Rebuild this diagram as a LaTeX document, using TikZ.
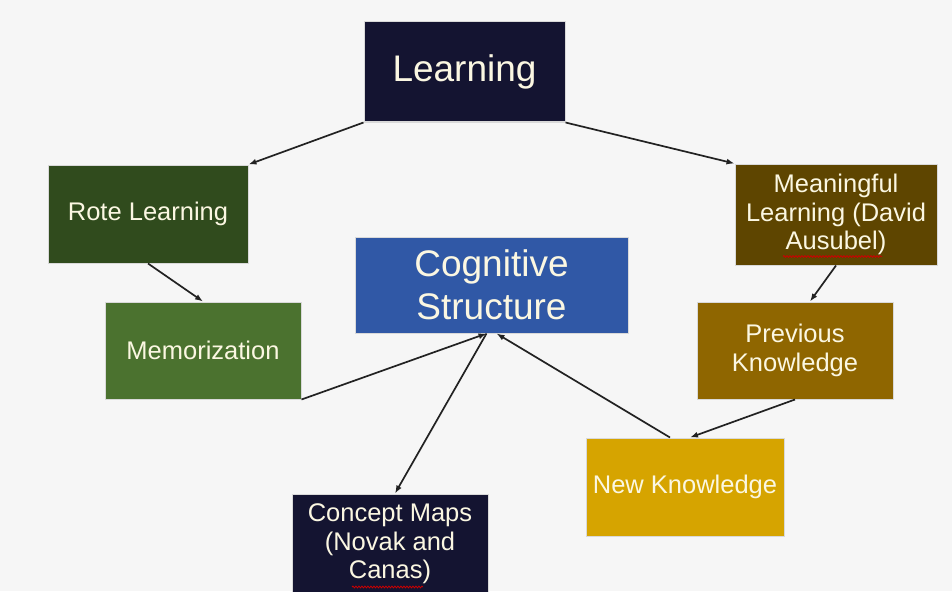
\documentclass[tikz,border=0pt]{standalone}
\usepackage{fontspec}
\setmainfont{Liberation Sans}
\usetikzlibrary{arrows.meta,decorations.pathmorphing}

\definecolor{bgcol}{HTML}{F6F6F6}
\definecolor{navycol}{HTML}{141431}
\definecolor{rotecol}{HTML}{304B1D}
\definecolor{memocol}{HTML}{4B722F}
\definecolor{cogcol}{HTML}{3058A6}
\definecolor{meancol}{HTML}{5E4500}
\definecolor{prevcol}{HTML}{8F6600}
\definecolor{newcol}{HTML}{D6A400}
\definecolor{txtcol}{HTML}{FBF7E2}
\definecolor{linecol}{HTML}{222222}

\begin{document}
\begin{tikzpicture}[x=1pt,y=-1pt,
    box/.style={draw=white!85!black,line width=1pt,text=txtcol,align=center,
      inner sep=0pt,font=\fontsize{25.5}{28.5}\selectfont},
    bigbox/.style={box,font=\fontsize{37}{43}\selectfont},
    link/.style={draw=linecol,line width=1.7pt,-{Latex[length=8pt,width=6pt]}},
    spell/.style={draw=red!80!black,line width=0.8pt,decorate,
      decoration={snake,amplitude=0.9pt,segment length=3pt}}]
% \clip (0,0) rectangle (952,591);
\fill[bgcol] (0,0) rectangle (952,591);%
\useasboundingbox (0,0) rectangle (952,591);%

% Drawing the boxes
\node[bigbox,fill=navycol,minimum width=201pt,minimum height=100pt] (learn) at (464.5,72) {Learning};%
\node[box,fill=rotecol,minimum width=200pt,minimum height=98pt] (rote) at (148,214) {Rote Learning};%
\node[box,fill=memocol,minimum width=196pt,minimum height=97pt] (memo) at (203,350.5) {Memorization};%
\node[bigbox,fill=cogcol,minimum width=273pt,minimum height=96pt] (cog) at (491.5,285) {Cognitive\\Structure};%
\node[box,fill=meancol,minimum width=202pt,minimum height=101pt] (mean) at (836,214.5) {Meaningful\\Learning (David\\Ausubel)};%
\node[box,fill=prevcol,minimum width=196pt,minimum height=97pt] (prev) at (795,350.5) {Previous\\Knowledge};%
\node[box,fill=newcol,minimum width=198pt,minimum height=98pt] (new) at (685,487) {New Knowledge};%
\node[box,fill=navycol,minimum width=196pt,minimum height=100pt] (maps) at (390,544) {Concept Maps\\(Novak and\\Canas)};%

% Spelling marks
\draw[spell] ([xshift=-53pt,yshift=9pt]mean.south) -- ([xshift=46pt,yshift=9pt]mean.south);%
\draw[spell] ([xshift=-38pt,yshift=-43pt]maps.center) -- ([xshift=33pt,yshift=-43pt]maps.center);%

% Drawing the links
\draw[link] (learn.south west) -- (rote.north east);%
\draw[link] (learn.south east) -- (mean.north west);%
\draw[link] (rote.south) -- (memo.north);%
\draw[link] (mean.south) -- ([xshift=15pt]prev.north);%
\draw[link] (prev.south) -- ([xshift=5pt]new.north);%
\draw[link] ([xshift=-15pt]new.north) -- ([xshift=5pt]cog.south);%
\draw[link] (memo.south east) -- ([xshift=-5pt]cog.south);%
\draw[link] ([xshift=-5pt]cog.south) -- ([xshift=5pt]maps.north);%
\end{tikzpicture}
\end{document}
